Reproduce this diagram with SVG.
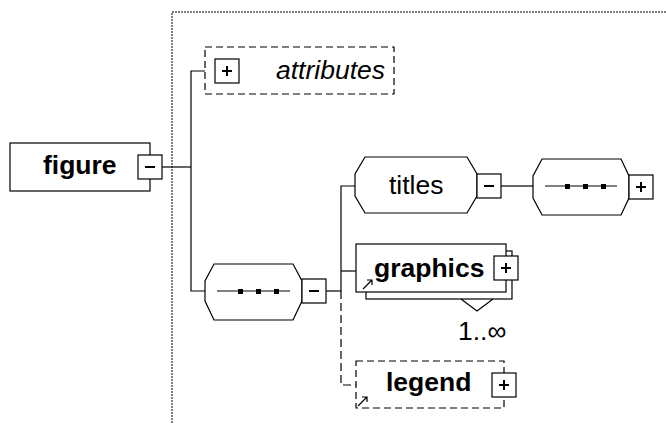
<svg xmlns="http://www.w3.org/2000/svg" width="666" height="423" viewBox="0 0 666 423">
<style>
  .box{fill:#fff;stroke:#000;stroke-width:1.2}
  .dbox{fill:#fff;stroke:#000;stroke-width:1.2;stroke-dasharray:7,4}
  .btn{fill:#fff;stroke:#000;stroke-width:1.2}
  .sign{stroke:#000;stroke-width:2;fill:none}
  .ln{stroke:#000;stroke-width:1.2;fill:none}
  .dln{stroke:#000;stroke-width:1.2;fill:none;stroke-dasharray:8,4}
  .dot{fill:#000}
  .t{font-family:"Liberation Sans",Arial,sans-serif;font-size:26.5px;fill:#000}
  .b{font-weight:bold}
  .i{font-style:italic}
</style>
<defs>
  <g id="minus"><rect class="btn" x="0" y="0" width="24" height="24"/><line class="sign" x1="7" y1="12" x2="17" y2="12"/></g>
  <g id="plus"><rect class="btn" x="0" y="0" width="24" height="24"/><line class="sign" x1="7" y1="12" x2="17" y2="12"/><line class="sign" x1="12" y1="7" x2="12" y2="17"/></g>
  <g id="refarrow"><path class="ln" d="M0,9 L9,0 M4,0 H9 V5"/></g>
</defs>

<path d="M172,423 V12 H666" fill="none" stroke="#000" stroke-width="1" stroke-dasharray="2,1"/>

<g id="connectors">
  <path class="ln" d="M162,167 H191"/>
  <path class="ln" d="M205,71 H191 V291 H205"/>
  <path class="ln" d="M326,291 H341"/>
  <path class="ln" d="M355,186 H341 V291"/>
  <path class="ln" d="M341,271 H356"/>
  <path class="dln" d="M341,291 V385 H356"/>
  <path class="ln" d="M501,186 H533"/>
</g>

<g id="figure">
  <rect class="box" x="10" y="143" width="140" height="48"/>
  <text class="t b" x="43" y="174">figure</text>
  <use href="#minus" x="138" y="155"/>
</g>

<g id="attributes">
  <rect class="dbox" x="205" y="47" width="189" height="47"/>
  <use href="#plus" x="215" y="59"/>
  <text class="t i" x="276" y="79">attributes</text>
</g>

<g id="sequence">
  <polygon class="box" points="214,264 293,264 302,281 302,301 293,320 214,320 205,301 205,281"/>
  <line class="ln" x1="217" y1="291" x2="290" y2="291"/>
  <rect class="dot" x="238" y="289" width="5" height="5"/>
  <rect class="dot" x="256" y="289" width="5" height="5"/>
  <rect class="dot" x="274" y="289" width="5" height="5"/>
  <use href="#minus" x="302" y="279"/>
</g>

<g id="titles">
  <polygon class="box" points="365,157 467,157 477,174 477,196 467,213 365,213 355,196 355,174"/>
  <text class="t" x="389" y="194">titles</text>
  <use href="#minus" x="477" y="174"/>
</g>

<g id="titles-sequence">
  <polygon class="box" points="542,159 621,159 629,176 629,198 621,215 542,215 533,198 533,176"/>
  <line class="ln" x1="545" y1="186" x2="617" y2="186"/>
  <rect class="dot" x="565" y="184" width="5" height="5"/>
  <rect class="dot" x="583" y="184" width="5" height="5"/>
  <rect class="dot" x="601" y="184" width="5" height="5"/>
  <use href="#plus" x="629" y="175"/>
</g>

<g id="graphics">
  <rect class="box" x="366" y="251" width="146" height="48"/>
  <rect class="box" x="356" y="244" width="150" height="48"/>
  <use href="#refarrow" x="363" y="280"/>
  <text class="t b" x="374" y="277">graphics</text>
  <use href="#plus" x="494" y="256"/>
  <path class="ln" d="M461,299 L477,311 L493,299"/>
  <text class="t" x="458" y="340">1..∞</text>
</g>

<g id="legend">
  <rect class="dbox" x="356" y="361" width="148" height="47"/>
  <use href="#refarrow" x="358" y="397"/>
  <text class="t b" x="386" y="391">legend</text>
  <use href="#plus" x="492" y="373"/>
</g>
</svg>
